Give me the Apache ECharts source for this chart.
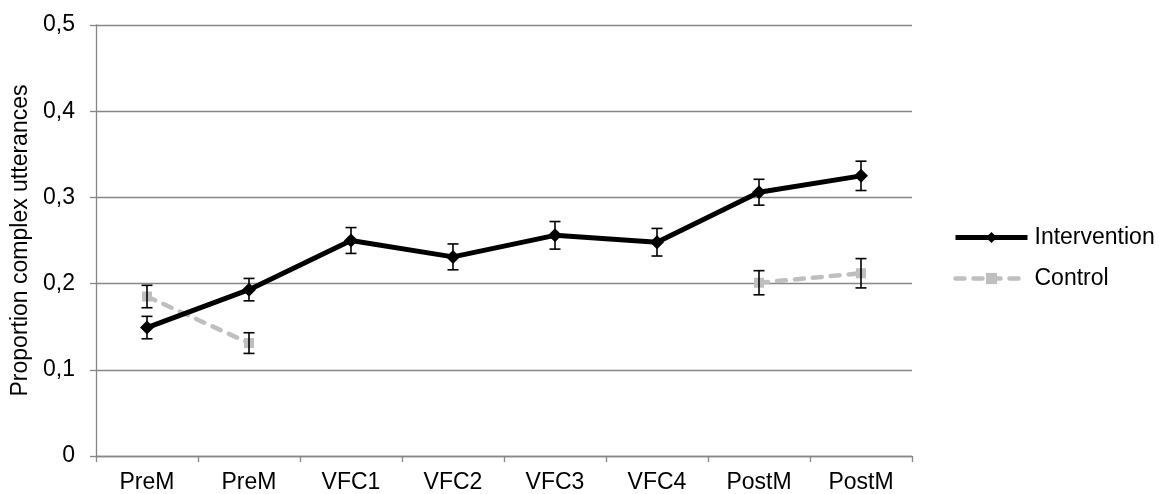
<!DOCTYPE html>
<html>
<head>
<meta charset="utf-8">
<script src="https://cdn.jsdelivr.net/npm/echarts@6/dist/echarts.min.js"></script>
<style>
  html, body { margin: 0; padding: 0; background: #fff; }
  #chart { width: 1159px; height: 494px; }
</style>
</head>
<body>
<div id="chart"></div>
<script>
// Measurement sessions
const categories = ['PreM', 'PreM', 'VFC1', 'VFC2', 'VFC3', 'VFC4', 'PostM', 'PostM'];

// Mean proportion of complex utterances per session
const intervention = [0.149, 0.193, 0.250, 0.231, 0.256, 0.248, 0.306, 0.325];
const control = [0.185, 0.131, null, null, null, null, 0.201, 0.212];

// Standard error (half-height of each error bar)
const interventionErr = [0.013, 0.013, 0.015, 0.015, 0.016, 0.016, 0.015, 0.017];
const controlErr = [0.013, 0.012, null, null, null, null, 0.014, 0.017];

// Y-axis ticks
const yTicks = [0, 0.1, 0.2, 0.3, 0.4, 0.5];

const FONT = 'Liberation Sans, Arial, sans-serif';
const AXIS_GREY = '#868686';

function errData(means, errs) {
  const out = [];
  means.forEach(function (m, i) {
    if (m == null || errs[i] == null) return;
    out.push([i, m - errs[i], m + errs[i]]);
  });
  return out;
}

function renderErr(params, api) {
  const x = api.value(0);
  const lo = api.coord([x, api.value(1)]);
  const hi = api.coord([x, api.value(2)]);
  const half = 5.5;
  const style = { stroke: '#000', lineWidth: 1.6 };
  return {
    type: 'group',
    children: [
      { type: 'line', shape: { x1: lo[0], y1: lo[1], x2: hi[0], y2: hi[1] }, style: style },
      { type: 'line', shape: { x1: lo[0] - half, y1: lo[1], x2: lo[0] + half, y2: lo[1] }, style: style },
      { type: 'line', shape: { x1: hi[0] - half, y1: hi[1], x2: hi[0] + half, y2: hi[1] }, style: style }
    ]
  };
}

const chart = echarts.init(document.getElementById('chart'), null, { renderer: 'canvas' });

chart.setOption({
  animation: false,
  textStyle: { fontFamily: FONT },
  grid: { left: 96, right: 247, top: 25, bottom: 37, containLabel: false },
  legend: {
    data: ['Intervention', 'Control'],
    orient: 'vertical',
    left: 948,
    top: 221,
    itemWidth: 72,
    itemHeight: 14,
    itemGap: 18,
    lineStyle: { width: 'inherit' },
    textStyle: { fontFamily: FONT, fontSize: 23, color: '#000', padding: [0, 0, 0, 2] }
  },
  xAxis: {
    type: 'category',
    data: categories,
    boundaryGap: true,
    axisLine: { lineStyle: { color: AXIS_GREY, width: 1.3 } },
    axisTick: { show: true, length: 6, lineStyle: { color: AXIS_GREY, width: 1.3 } },
    axisLabel: { color: '#000', fontSize: 23, margin: 15, fontFamily: FONT, interval: 0 },
    splitLine: { show: false }
  },
  yAxis: {
    type: 'value',
    min: yTicks[0],
    max: yTicks[yTicks.length - 1],
    interval: 0.1,
    name: 'Proportion complex utterances',
    nameLocation: 'middle',
    nameGap: 59,
    nameTextStyle: { color: '#000', fontSize: 23, fontFamily: FONT },
    axisLine: { show: true, lineStyle: { color: AXIS_GREY, width: 1.3 } },
    axisTick: { show: true, length: 6, lineStyle: { color: AXIS_GREY, width: 1.3 } },
    axisLabel: {
      color: '#000',
      fontSize: 23,
      margin: 21,
      fontFamily: FONT,
      formatter: function (v) { return v === 0 ? '0' : v.toFixed(1).replace('.', ','); }
    },
    splitLine: { show: true, lineStyle: { color: AXIS_GREY, width: 1.3 } }
  },
  series: [
    {
      name: 'Control',
      type: 'line',
      data: control,
      connectNulls: false,
      z: 2,
      symbol: 'rect',
      symbolSize: 10,
      itemStyle: { color: '#BFBFBF' },
      lineStyle: { color: '#BFBFBF', width: 4.5, type: [9, 9], cap: 'round' }
    },
    {
      name: 'Intervention',
      type: 'line',
      data: intervention,
      z: 3,
      symbol: 'diamond',
      symbolSize: 14,
      itemStyle: { color: '#000' },
      lineStyle: { color: '#000', width: 5 }
    },
    {
      name: 'Intervention SE',
      type: 'custom',
      data: errData(intervention, interventionErr),
      renderItem: renderErr,
      z: 4,
      silent: true
    },
    {
      name: 'Control SE',
      type: 'custom',
      data: errData(control, controlErr),
      renderItem: renderErr,
      z: 4,
      silent: true
    }
  ]
});
</script>
</body>
</html>
